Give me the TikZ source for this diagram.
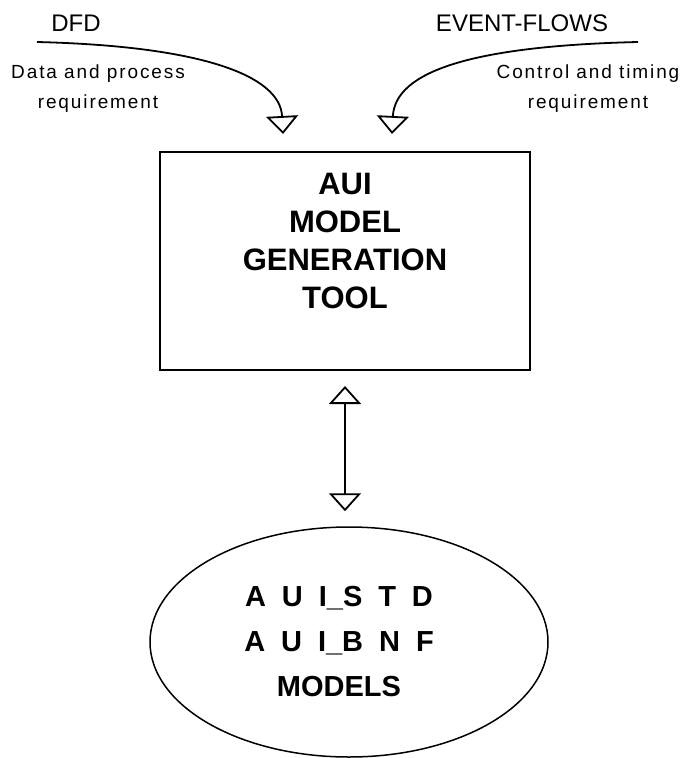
\documentclass[tikz,border=0pt]{standalone}
\usepackage{fontspec}
\setmainfont{Liberation Sans}
\newfontfamily\spacedfont[LetterSpace=10]{Liberation Sans}
\usetikzlibrary{arrows.meta,shapes.geometric}
\begin{document}
\begin{tikzpicture}[x=1pt,y=-1pt,
  boxstyle/.style={draw,line width=2pt,minimum width=370pt,minimum height=218pt,inner sep=0pt},
  ellstyle/.style={draw,ellipse,line width=1.5pt,minimum width=398pt,minimum height=230pt,inner sep=0pt},
  bigtext/.style={align=center,font=\fontsize{31}{38}\selectfont\bfseries,inner sep=0pt},
  elltext/.style={align=center,font=\fontsize{29}{45}\selectfont\bfseries,inner sep=0pt},
  lbl/.style={align=center,font=\fontsize{19}{30}\spacedfont,inner sep=0pt},
  head/.style={font=\fontsize{24}{24}\selectfont,inner sep=0pt},
  flow/.style={line width=1.8pt,-{Triangle[open,width=32pt,length=18pt,line width=1.8pt]}},
  dbl/.style={line width=1.8pt,{Triangle[open,width=32pt,length=18pt,line width=1.8pt]}-{Triangle[open,width=32pt,length=18pt,line width=1.8pt]}}
]
\useasboundingbox (0,0) rectangle (691,758);
\node[boxstyle] (tool) at (345,261) {};
\node[bigtext] (tooltext) at (345,241) {AUI\\MODEL\\GENERATION\\TOOL};
\node[ellstyle] (models) at (349,642) {};
\node[elltext] (modtext) at (339,642) {A\hspace{0.55em}U\hspace{0.55em}I\_S\hspace{0.55em}T\hspace{0.55em}D\\A\hspace{0.55em}U\hspace{0.55em}I\_B\hspace{0.55em}N\hspace{0.55em}F\\MODELS};
\node[head] (dfd) at (76,23) {DFD};
\node[head] (ev) at (522,23) {EVENT-FLOWS};
\node[lbl] (dlbl) at (98,89) {Data and process\\requirement};
\node[lbl] (clbl) at (588,89) {Control and timing\\requirement};
\coordinate (dstart) at (37,42);
\coordinate (estart) at (638,42);
\coordinate (dend) at ([xshift=-62pt,yshift=17pt]tool.north);
\coordinate (eend) at ([xshift=47pt,yshift=17pt]tool.north);
\draw[flow] (dstart) .. controls (200,46) and (280,75) .. (dend);
\draw[flow] (estart) .. controls (470,46) and (395,72) .. (eend);
\draw[dbl] ([yshift=-15pt]tool.south) -- ([yshift=15pt]tool.south |- models.north);
\end{tikzpicture}
\end{document}
